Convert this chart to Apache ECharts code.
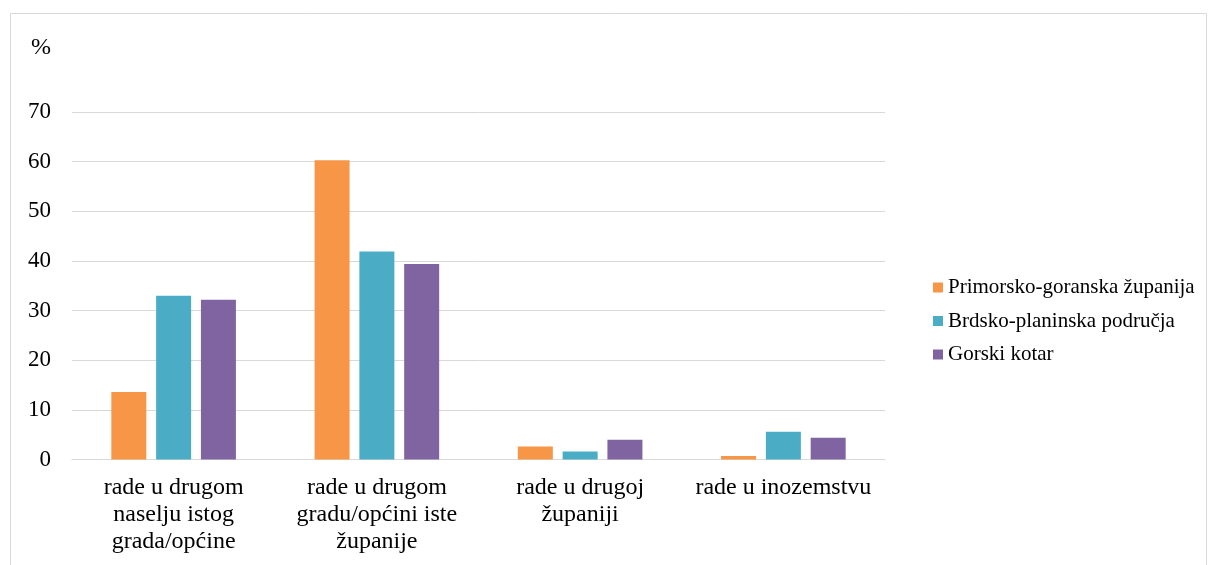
<!DOCTYPE html>
<html>
<head>
<meta charset="utf-8">
<script src="https://cdn.jsdelivr.net/npm/echarts@6/dist/echarts.min.js"></script>
<style>
	html, body { margin: 0; padding: 0; background: #fff; }
	#chart { width: 1209px; height: 565px; }
</style>
</head>
<body>
<div id="chart"></div>
<script>
	// kategorije i vrijednosti (%)
	var categories = [
		'rade u drugom\nnaselju istog\ngrada/općine',
		'rade u drugom\ngradu/općini iste\nžupanije',
		'rade u drugoj\nžupaniji',
		'rade u inozemstvu'
	];
	var primorsko = [13.6, 60.3, 2.6, 0.7];
	var brdsko = [33.0, 41.9, 1.6, 5.6];
	var gorski = [32.2, 39.4, 4.0, 4.4];
	var seriesNames = ['Primorsko-goranska županija', 'Brdsko-planinska područja', 'Gorski kotar'];

	var font = 'Liberation Serif, Times New Roman, serif';
	var myChart = echarts.init(document.getElementById('chart'));

	myChart.setOption({
		animation: false,
		color: ['#F79646', '#4BACC6', '#8064A2'],
		title: {
			text: '%',
			left: 26,
			top: 31,
			textStyle: { fontFamily: font, fontSize: 24, fontWeight: 'normal', color: '#000' }
		},
		graphic: [{
			type: 'rect',
			shape: { x: 10.5, y: 13.5, width: 1196, height: 560 },
			style: { fill: 'none', stroke: '#d9d9d9', lineWidth: 1 },
			silent: true
		}],
		legend: {
			orient: 'vertical',
			left: 928,
			top: 272,
			itemWidth: 10,
			itemHeight: 10,
			itemGap: 12.5,
			icon: 'rect',
			textStyle: { fontFamily: font, fontSize: 21, color: '#000' },
			data: seriesNames
		},
		grid: {
			left: 72,
			right: 324,
			top: 112,
			bottom: 105.5,
			containLabel: false
		},
		xAxis: {
			type: 'category',
			data: categories,
			axisLine: { show: true, lineStyle: { color: '#d9d9d9', width: 1 } },
			axisTick: { show: false },
			axisLabel: {
				interval: 0,
				margin: 15,
				fontFamily: font,
				fontSize: 24,
				lineHeight: 27,
				color: '#000'
			}
		},
		yAxis: {
			type: 'value',
			min: 0,
			max: 70,
			interval: 10,
			axisLine: { show: false },
			axisTick: { show: false },
			axisLabel: { margin: 21, fontFamily: font, fontSize: 23, color: '#000' },
			splitLine: { lineStyle: { color: '#d9d9d9', width: 1 } }
		},
		series: [{
			name: seriesNames[0],
			type: 'bar',
			data: primorsko,
			barWidth: 35,
			barGap: '28%'
		}, {
			name: seriesNames[1],
			type: 'bar',
			data: brdsko,
			barWidth: 35,
			barGap: '28%'
		}, {
			name: seriesNames[2],
			type: 'bar',
			data: gorski,
			barWidth: 35,
			barGap: '28%'
		}]
	});
</script>
</body>
</html>
